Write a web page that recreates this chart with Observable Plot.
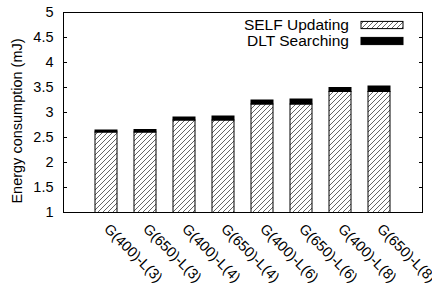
<!DOCTYPE html>
<html>
<head>
<meta charset="utf-8">
<script src="https://cdn.jsdelivr.net/npm/d3@7"></script>
<script src="https://cdn.jsdelivr.net/npm/@observablehq/plot@0.6"></script>
<style>
  body { margin: 0; background: #fff; }
  #chart { width: 432px; height: 297px; }
</style>
</head>
<body>
<div id="chart"></div>
<script>
const categories = ["G(400)-L(3)", "G(650)-L(3)", "G(400)-L(4)", "G(650)-L(4)", "G(400)-L(6)", "G(650)-L(6)", "G(400)-L(8)", "G(650)-L(8)"];
const seriesNames = ["SELF Updating", "DLT Searching"];
const selfUpdating = [2.60, 2.60, 2.84, 2.84, 3.16, 3.16, 3.41, 3.41];
const dltSearching = [0.04, 0.05, 0.06, 0.08, 0.08, 0.10, 0.08, 0.11];
const yTicks = [1, 1.5, 2, 2.5, 3, 3.5, 4, 4.5, 5];
const yTickLabels = ["1", "1.5", "2", "2.5", "3", "3.5", "4", "4.5", "5"];
const yLabel = "Energy consumption (mJ)";

const table = [];
categories.forEach((c, i) => {
  table.push({cat: c, series: seriesNames[0], value: selfUpdating[i]});
  table.push({cat: c, series: seriesNames[1], value: dltSearching[i]});
});

const FONT = "Liberation Sans, Arial, Helvetica, sans-serif";
const fills = ["url(#hatch)", "#000"];

const chart = Plot.plot({
  width: 432,
  height: 297,
  marginLeft: 63,
  marginRight: 10,
  marginTop: 12,
  marginBottom: 85,
  style: {fontFamily: FONT, fontSize: "14.5px", color: "#000", background: "#fff"},
  x: {domain: categories, paddingInner: 0.43, paddingOuter: 0.715, label: null},
  y: {domain: [1, 5], label: null},
  color: {domain: seriesNames, range: fills},
  marks: [
    Plot.rectY(table, Plot.stackY({x: "cat", y: "value", fill: "series", order: null, stroke: "#000", strokeWidth: 1, clip: true})),
    Plot.frame({stroke: "#000", strokeWidth: 1}),
    Plot.axisY(yTicks, {anchor: "left", tickSize: -4, tickPadding: 14, fontSize: 14.5, label: null,
      tickFormat: (d) => yTickLabels[yTicks.indexOf(d)]}),
    Plot.axisY(yTicks, {anchor: "right", tickSize: -4, tickFormat: () => "", label: null}),
    Plot.axisX({anchor: "bottom", tickSize: 0, tickPadding: 14, tickRotate: 45, fontSize: 14.5, label: null}),
    Plot.text([yLabel], {frameAnchor: "left", text: d => d, rotate: -90, textAnchor: "middle", lineAnchor: "middle", dx: -46, dy: 8.5, fontSize: 14.5, fill: "#000"})
  ]
});

document.getElementById("chart").appendChild(chart);

// hatch pattern definition
const svg = d3.select(chart);
const defs = svg.insert("defs", ":first-child");
const S = 5;
const pat = defs.append("pattern")
  .attr("id", "hatch")
  .attr("patternUnits", "userSpaceOnUse")
  .attr("width", S).attr("height", S);
pat.append("rect").attr("width", S).attr("height", S).attr("fill", "#fff");
pat.append("path")
  .attr("d", `M-1,1 L1,-1 M0,${S} L${S},0 M${S - 1},${S + 1} L${S + 1},${S - 1}`)
  .attr("stroke", "#222").attr("stroke-width", 0.7);

// legend inside the plot, top right
const legend = svg.append("g").attr("font-family", FONT).attr("font-size", 15.5);
seriesNames.forEach((name, i) => {
  const cy = 25 + i * 16;
  legend.append("text")
    .attr("x", 349).attr("y", cy).attr("dy", "0.35em")
    .attr("text-anchor", "end").attr("fill", "#000").text(name);
  legend.append("rect")
    .attr("x", 361).attr("y", cy - 3.6).attr("width", 42).attr("height", 7.2)
    .attr("fill", fills[i]).attr("stroke", "#000").attr("stroke-width", 1);
});
</script>
</body>
</html>
